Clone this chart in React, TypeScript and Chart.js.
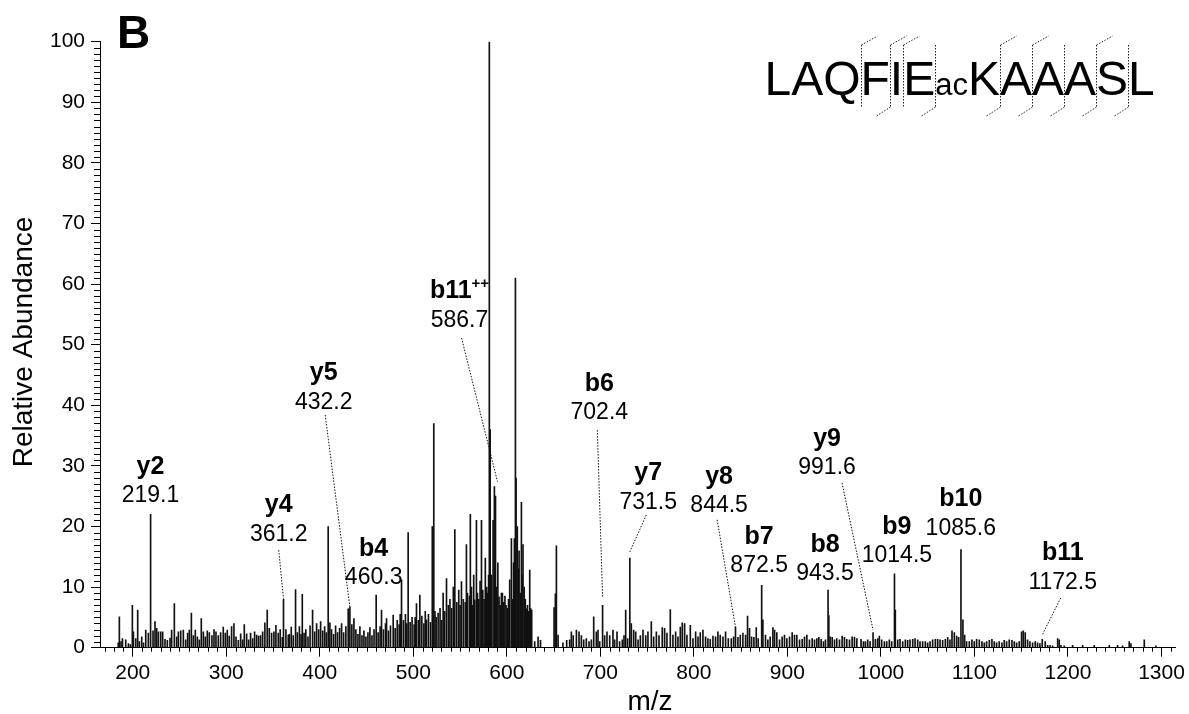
import React, { useEffect, useRef } from 'react';
import { Chart, registerables } from 'chart.js';

Chart.register(...registerables);

const FONT = '"Liberation Sans", Arial, Helvetica, sans-serif';

// ---------- axes ----------
const X_MIN = 165;
const X_MAX = 1315;
const Y_MIN = 0;
const Y_MAX = 100;
const xMajorTicks = [200, 300, 400, 500, 600, 700, 800, 900, 1000, 1100, 1200, 1300];
const yMajorTicks = [0, 10, 20, 30, 40, 50, 60, 70, 80, 90, 100];
const xTitle = 'm/z';
const yTitle = 'Relative Abundance';
const panelLetter = 'B';

// ---------- spectrum peaks: [m/z, relative abundance] ----------
const peaks180to366: [number, number][] = [
  [184.5, 0.8], [185.7, 5.1], [187.5, 1.0], [189.0, 1.5], [192.5, 1.3], [195.4, 0.7], [197.5, 0.5], [199.6, 7.0],
  [200.7, 2.6], [203.2, 1.5], [205.3, 6.2], [207.1, 1.0], [209.6, 1.8], [211.5, 0.8], [213.9, 2.9], [216.7, 2.4],
  [219.1, 22.0], [221.7, 2.8], [223.8, 4.3], [225.6, 3.2], [227.4, 2.6], [229.9, 2.6], [232.0, 2.6], [234.5, 1.4],
  [237.0, 1.2], [239.9, 1.6], [241.6, 2.9], [244.5, 7.3], [247.0, 1.8], [248.8, 2.6], [251.3, 2.8], [254.1, 2.9],
  [256.6, 1.3], [258.7, 2.4], [260.5, 2.9], [262.7, 5.7], [264.8, 2.0], [266.9, 2.9], [269.1, 1.8], [271.2, 1.3],
  [273.3, 4.8], [275.5, 2.6], [277.6, 1.8], [279.7, 2.8], [281.9, 2.5], [284.7, 2.0], [286.9, 3.0], [289.0, 2.6],
  [291.5, 2.0], [294.0, 2.5], [296.8, 3.4], [299.0, 2.4], [301.1, 2.9], [303.2, 1.9], [305.7, 3.5], [308.2, 4.0],
  [310.4, 1.8], [312.9, 1.2], [315.4, 2.3], [317.5, 1.3], [319.3, 3.8], [321.8, 2.3], [323.9, 1.3], [326.0, 2.4],
  [328.2, 1.5], [330.3, 2.6], [332.5, 2.1], [334.6, 1.9], [336.7, 2.0], [338.9, 2.6], [341.3, 4.1], [343.8, 6.2],
  [346.0, 3.2], [348.5, 2.4], [351.0, 2.6], [353.1, 3.7], [355.6, 2.4], [357.7, 3.0], [359.9, 1.7], [361.2, 8.0],
  [363.8, 3.0], [366.3, 2.1],
];

const peaks366to480: [number, number][] = [
  [367.5, 2.2], [369.5, 3.4], [371.6, 2.0], [374.1, 9.6], [376.0, 2.5], [378.2, 3.5], [380.0, 2.2], [381.3, 8.8],
  [383.2, 2.4], [385.1, 3.0], [387.4, 1.8], [389.6, 3.6], [392.3, 6.2], [394.5, 2.6], [396.6, 4.0], [398.8, 3.0],
  [400.9, 4.3], [403.1, 2.8], [405.2, 3.5], [407.0, 2.5], [409.0, 20.0], [410.8, 4.1], [412.6, 3.0], [414.8, 2.2],
  [416.9, 3.6], [419.0, 2.5], [421.2, 3.2], [423.3, 4.0], [425.5, 2.5], [427.9, 3.5], [430.4, 6.4], [432.2, 6.7],
  [434.3, 3.8], [436.5, 4.8], [438.6, 3.0], [440.8, 2.2], [442.9, 3.5], [445.1, 2.0], [447.2, 2.8], [449.3, 1.8],
  [451.5, 2.5], [453.6, 3.3], [455.8, 2.0], [458.0, 3.0], [460.3, 8.7], [462.4, 2.5], [464.5, 3.5], [466.0, 6.2],
  [468.1, 3.0], [470.3, 4.0], [471.4, 4.8], [473.5, 2.8], [475.6, 3.6], [478.5, 5.4],
];

const peaks480to636: [number, number][] = [
  [480.6, 3.2], [482.8, 4.5], [484.9, 3.8], [486.0, 5.5], [487.4, 11.2], [489.5, 4.5], [491.6, 5.5], [493.0, 4.0],
  [494.5, 19.0], [496.6, 4.2], [498.7, 5.0], [500.9, 3.8], [502.0, 5.0], [503.4, 7.3], [505.5, 4.5], [507.0, 8.7],
  [509.1, 5.2], [511.3, 4.0], [512.8, 6.0], [514.1, 4.6], [516.2, 5.5], [518.4, 4.2], [520.3, 20.0], [521.9, 37.0],
  [523.2, 6.0], [524.4, 5.0], [526.5, 5.7], [528.6, 6.5], [530.3, 4.5], [531.9, 9.0], [533.5, 6.0], [535.5, 11.4],
  [537.5, 7.0], [539.2, 8.0], [541.0, 6.5], [542.8, 10.0], [544.4, 19.5], [546.5, 7.5], [548.6, 9.5], [550.0, 7.0],
  [551.5, 10.9], [553.5, 8.0], [555.6, 7.5], [556.8, 17.0], [557.9, 9.0], [560.0, 8.5], [561.0, 22.0], [562.2, 10.0],
  [563.4, 7.0], [564.6, 12.0], [565.7, 7.9], [567.5, 21.0], [568.6, 9.0], [570.0, 8.0], [571.4, 11.0], [572.9, 21.0],
  [574.3, 9.5], [575.7, 8.0], [577.0, 14.8], [578.5, 10.0], [579.6, 9.0], [580.5, 12.0], [581.3, 100.0], [582.2, 36.0],
  [583.5, 12.0], [585.3, 21.0], [586.7, 26.6], [587.9, 25.0], [589.0, 10.0], [590.4, 14.0], [591.7, 8.4], [593.0, 7.0],
  [594.2, 9.0], [595.3, 9.0], [596.8, 7.5], [598.0, 8.5], [599.2, 7.0], [600.5, 6.5], [601.8, 8.0], [603.1, 11.2],
  [604.9, 18.0], [606.2, 8.0], [607.2, 14.0], [608.1, 18.0], [609.2, 61.0], [609.9, 28.0], [611.2, 20.0], [612.4, 13.0],
  [613.1, 16.0], [614.4, 9.0], [615.6, 24.0], [616.5, 12.0], [617.3, 17.0], [618.6, 10.0], [619.8, 8.0], [620.9, 6.4],
  [622.1, 7.0], [623.3, 6.0], [624.5, 12.8], [625.5, 6.5], [626.6, 6.2], [629.8, 1.0], [633.4, 1.8], [636.0, 1.2],
];

const peaks636to775: [number, number][] = [
  [650.5, 6.6], [651.9, 8.9], [653.0, 16.8], [654.8, 2.1], [660.0, 0.8], [664.0, 1.2], [667.2, 1.3], [669.0, 2.6],
  [671.0, 2.0], [674.4, 2.9], [677.2, 2.6], [679.7, 2.0], [682.2, 1.3], [685.0, 1.5], [687.9, 1.0], [690.4, 1.3],
  [692.9, 5.1], [695.7, 2.6], [697.5, 2.9], [699.3, 1.0], [702.4, 7.0], [704.6, 2.0], [707.1, 2.6], [710.0, 2.0],
  [713.5, 2.9], [715.3, 1.3], [717.8, 2.6], [720.6, 1.0], [723.5, 1.3], [725.3, 2.0], [727.1, 6.2], [729.2, 1.5],
  [731.5, 14.8], [733.1, 4.0], [735.6, 2.9], [737.8, 2.6], [740.3, 1.3], [742.8, 2.0], [745.6, 2.9], [748.5, 2.0],
  [750.9, 2.6], [754.5, 4.3], [757.0, 1.8], [759.9, 2.6], [762.7, 2.0], [766.2, 3.3], [768.7, 3.2], [771.2, 2.4],
  [774.8, 6.3],
];

const peaks775to975: [number, number][] = [
  [777.6, 2.1], [780.5, 2.6], [783.0, 1.8], [785.5, 3.4], [787.6, 4.1], [790.1, 4.0], [792.6, 2.1], [796.2, 3.7],
  [799.0, 1.5], [801.9, 2.6], [804.4, 1.8], [806.8, 2.5], [809.7, 2.9], [812.5, 1.8], [815.0, 1.5], [817.5, 1.4],
  [820.4, 1.9], [823.2, 1.8], [825.7, 2.6], [828.2, 2.1], [831.1, 1.8], [833.9, 2.6], [836.8, 1.5], [840.0, 1.5],
  [842.5, 1.8], [844.5, 3.4], [847.1, 1.7], [849.6, 2.1], [852.4, 2.4], [855.3, 2.1], [857.4, 5.2], [859.5, 3.2],
  [861.7, 1.8], [864.2, 1.7], [866.7, 3.3], [868.8, 1.5], [872.5, 10.3], [873.8, 4.6], [876.6, 2.1], [879.1, 1.3],
  [881.6, 1.8], [884.5, 3.3], [886.3, 2.9], [888.7, 2.5], [891.6, 1.3], [894.4, 1.8], [896.9, 2.1], [899.4, 1.5],
  [902.3, 1.8], [905.1, 2.5], [907.6, 2.1], [910.1, 2.1], [913.0, 1.3], [915.8, 1.4], [918.3, 1.8], [920.8, 2.1],
  [923.6, 1.3], [926.5, 1.5], [929.0, 1.3], [931.5, 1.5], [933.6, 1.7], [936.1, 1.4], [938.6, 1.0], [940.7, 1.3],
  [943.5, 9.5], [944.3, 5.3], [945.7, 1.8], [947.9, 1.7], [950.4, 1.3], [952.8, 1.5], [955.7, 1.3], [958.5, 1.9],
  [961.0, 1.7], [963.5, 1.4], [966.4, 1.3], [969.2, 1.8], [971.7, 1.7], [974.2, 1.5],
];

const peaks975to1176: [number, number][] = [
  [978.8, 1.4], [981.3, 1.0], [983.4, 1.0], [985.9, 1.3], [988.4, 1.0], [991.6, 2.5], [994.1, 1.4], [996.6, 1.5],
  [998.3, 1.9], [1000.8, 1.3], [1003.7, 1.0], [1006.2, 1.0], [1009.0, 1.3], [1011.5, 1.0], [1014.5, 12.2], [1015.4, 6.2],
  [1018.0, 1.3], [1020.4, 1.4], [1023.3, 1.0], [1026.1, 1.3], [1028.6, 1.2], [1031.1, 1.3], [1034.0, 1.4], [1036.5, 1.5],
  [1039.3, 1.3], [1041.8, 1.0], [1044.6, 1.0], [1047.5, 1.0], [1050.0, 0.8], [1052.5, 1.0], [1055.3, 1.3], [1058.2, 1.4],
  [1060.7, 1.4], [1063.2, 1.3], [1066.0, 1.2], [1068.9, 1.4], [1071.4, 1.7], [1073.8, 1.3], [1076.0, 2.8], [1078.5, 2.5],
  [1081.0, 1.9], [1083.1, 1.7], [1085.6, 16.2], [1087.7, 4.6], [1089.5, 2.1], [1091.6, 1.0], [1094.5, 1.0], [1097.3, 1.3],
  [1099.8, 1.0], [1102.3, 1.4], [1105.2, 1.3], [1108.0, 1.0], [1110.5, 0.8], [1113.0, 1.0], [1115.9, 1.2], [1118.7, 1.4],
  [1121.2, 1.0], [1123.7, 0.8], [1126.5, 1.0], [1129.4, 0.8], [1131.9, 1.2], [1134.4, 1.0], [1137.2, 1.3], [1140.1, 1.2],
  [1142.6, 1.0], [1145.1, 0.8], [1147.9, 1.0], [1150.4, 2.6], [1152.2, 2.8], [1154.3, 2.5], [1156.8, 1.3], [1159.3, 1.0],
  [1162.2, 0.8], [1165.0, 1.0], [1167.5, 0.8], [1170.0, 0.7], [1172.5, 1.4], [1175.7, 1.0],
];

const peaks1176to1310: [number, number][] = [
  [1178.3, 0.4], [1180.8, 0.4], [1183.6, 0.3], [1189.0, 1.5], [1190.7, 1.3], [1192.5, 0.4], [1196.0, 0.3],
  [1205.0, 0.4], [1215.7, 0.4], [1228.1, 0.4], [1244.2, 0.4], [1253.1, 0.4], [1258.4, 0.3], [1265.5, 1.0],
  [1267.3, 0.7], [1281.6, 1.3], [1294.0, 0.3],
];

// ---------- fragment-ion annotations ----------
const ionNames = ['y2', 'y4', 'y5', 'b4', 'b11', 'b6', 'y7', 'y8', 'b7', 'b8', 'y9', 'b9', 'b10', 'b11'];
const ionCharges = ['', '', '', '', '++', '', '', '', '', '', '', '', '', ''];
const ionMzLabels = ['219.1', '361.2', '432.2', '460.3', '586.7', '702.4', '731.5', '844.5', '872.5', '943.5', '991.6', '1014.5', '1085.6', '1172.5'];
// label anchor (centre of ion-name line), in data units [m/z, abundance]
const labelAnchors: [number, number][] = [
  [219.0, 29.8], [356.1, 23.5], [404.2, 45.3], [457.6, 16.3], [549.4, 58.8], [698.9, 43.5], [751.2, 28.8],
  [827.0, 28.2], [869.8, 18.3], [940.2, 17.0], [942.4, 34.5], [1017.1, 19.9], [1085.4, 24.5], [1194.4, 15.6],
];
// dotted leader lines, in data units (null = none)
const leaderStarts: ([number, number] | null)[] = [
  null, [356.1, 16.1], [405.8, 38.4], null, [551.6, 51.1], [696.8, 35.9], [749.1, 21.9],
  [824.9, 21.1], null, null, [958.4, 27.2], null, null, [1192.2, 8.2],
];
const leaderEnds: ([number, number] | null)[] = [
  null, [361.2, 8.1], [432.2, 6.7], null, [590.0, 27.4], [702.4, 8.4], [731.5, 15.8],
  [844.5, 3.4], null, null, [991.6, 2.9], null, null, [1172.5, 2.1],
];

// ---------- peptide ----------
const residues = ['L', 'A', 'Q', 'F', 'I', 'E', 'K', 'A', 'A', 'A', 'S', 'L'];
const residueMods = ['', '', '', '', '', '', 'ac', '', '', '', '', ''];
const bIonsObserved = [4, 6, 7, 8, 9, 10, 11];
const yIonsObserved = [2, 4, 5, 7, 8, 9];

const allPeaks = [
  ...peaks180to366, ...peaks366to480, ...peaks480to636, ...peaks636to775,
  ...peaks775to975, ...peaks975to1176, ...peaks1176to1310,
];

const overlayPlugin = {
  id: 'spectrumOverlay',
  afterDraw(chart: any) {
    const ctx: CanvasRenderingContext2D = chart.ctx;
    const xs = chart.scales.x;
    const ys = chart.scales.y;
    const area = chart.chartArea;
    ctx.save();

    // minor ticks
    ctx.strokeStyle = '#000';
    ctx.lineWidth = 1;
    ctx.beginPath();
    for (let v = 170; v <= X_MAX; v += 10) {
      if (v % 100 === 0) continue;
      const px = Math.round(xs.getPixelForValue(v)) + 0.5;
      ctx.moveTo(px, area.bottom);
      ctx.lineTo(px, area.bottom + 4);
    }
    for (let v = 1; v < Y_MAX; v += 1) {
      if (v % 10 === 0) continue;
      const py = Math.round(ys.getPixelForValue(v)) + 0.5;
      ctx.moveTo(area.left, py);
      ctx.lineTo(area.left - 6, py);
    }
    ctx.stroke();

    // axis titles
    ctx.fillStyle = '#000';
    ctx.font = `28px ${FONT}`;
    ctx.textAlign = 'center';
    ctx.textBaseline = 'alphabetic';
    ctx.fillText(xTitle, 650, 710);
    ctx.save();
    ctx.translate(31.5, 342);
    ctx.rotate(-Math.PI / 2);
    ctx.fillText(yTitle, 0, 0);
    ctx.restore();

    // panel letter
    ctx.font = `bold 46px ${FONT}`;
    ctx.textAlign = 'left';
    ctx.fillText(panelLetter, 117, 48);

    // peptide sequence with fragmentation markers
    const bigFont = `48px ${FONT}`;
    const modFont = `31px ${FONT}`;
    const baseY = 95;
    let cx = 764.5;
    const boundaries: number[] = [];
    for (let i = 0; i < residues.length; i++) {
      if (residueMods[i]) {
        ctx.font = modFont;
        ctx.fillText(residueMods[i], cx, baseY);
        cx += ctx.measureText(residueMods[i]).width;
      }
      ctx.font = bigFont;
      ctx.fillText(residues[i], cx, baseY);
      cx += ctx.measureText(residues[i]).width;
      boundaries.push(cx);
    }
    ctx.strokeStyle = '#222';
    ctx.lineWidth = 1;
    ctx.setLineDash([1.5, 1.5]);
    const n = residues.length;
    for (let i = 1; i < n; i++) {
      const hasB = bIonsObserved.includes(i);
      const hasY = yIonsObserved.includes(n - i);
      if (!hasB && !hasY) continue;
      const x = Math.round(boundaries[i - 1]) + 0.5;
      ctx.beginPath();
      ctx.moveTo(x, 45);
      ctx.lineTo(x, 107);
      if (hasY) {
        ctx.moveTo(x, 45);
        ctx.lineTo(x + 16, 36);
      }
      if (hasB) {
        ctx.moveTo(x, 107);
        ctx.lineTo(x - 14, 116);
      }
      ctx.stroke();
    }
    ctx.setLineDash([]);

    // ion annotations
    ctx.textBaseline = 'middle';
    for (let i = 0; i < ionNames.length; i++) {
      const [amz, aab] = labelAnchors[i];
      const px = xs.getPixelForValue(amz);
      const py = ys.getPixelForValue(aab);
      ctx.fillStyle = '#000';
      ctx.font = `bold 25px ${FONT}`;
      const w1 = ctx.measureText(ionNames[i]).width;
      let w2 = 0;
      if (ionCharges[i]) {
        ctx.font = `bold 15px ${FONT}`;
        w2 = ctx.measureText(ionCharges[i]).width;
      }
      const left = px - (w1 + w2) / 2;
      ctx.textAlign = 'left';
      ctx.font = `bold 25px ${FONT}`;
      ctx.fillText(ionNames[i], left, py);
      if (ionCharges[i]) {
        ctx.font = `bold 15px ${FONT}`;
        ctx.fillText(ionCharges[i], left + w1, py - 8);
      }
      ctx.textAlign = 'center';
      ctx.font = `23px ${FONT}`;
      ctx.fillText(ionMzLabels[i], px, py + 29);

      const s = leaderStarts[i];
      const e = leaderEnds[i];
      if (s && e) {
        ctx.strokeStyle = '#111';
        ctx.lineWidth = 1;
        ctx.setLineDash([1.5, 1.5]);
        ctx.beginPath();
        ctx.moveTo(xs.getPixelForValue(s[0]), ys.getPixelForValue(s[1]));
        ctx.lineTo(xs.getPixelForValue(e[0]), ys.getPixelForValue(e[1]));
        ctx.stroke();
        ctx.setLineDash([]);
      }
    }
    ctx.restore();
  },
};

export default function App() {
  const canvasRef = useRef<HTMLCanvasElement | null>(null);

  useEffect(() => {
    const canvas = canvasRef.current;
    if (!canvas) return;
    const chart = new Chart(canvas, {
      type: 'bar',
      data: {
        datasets: [
          {
            data: allPeaks.map(([x, y]) => ({ x, y })),
            backgroundColor: '#111',
            borderWidth: 0,
            barThickness: 1,
          } as any,
        ],
      },
      options: {
        responsive: false,
        animation: false,
        devicePixelRatio: 1,
        layout: { padding: { left: 0, right: 12, top: 41.7, bottom: 0 } },
        plugins: { legend: { display: false }, tooltip: { enabled: false } },
        scales: {
          x: {
            type: 'linear',
            min: X_MIN,
            max: X_MAX,
            offset: false,
            afterBuildTicks: (s: any) => {
              s.ticks = xMajorTicks.map((v) => ({ value: v }));
            },
            afterFit: (s: any) => {
              s.height = 66.3;
            },
            ticks: {
              font: { family: FONT, size: 21 },
              color: '#000',
              padding: 4,
              maxRotation: 0,
              autoSkip: false,
              callback: (v: any) => String(v),
            },
            grid: { display: true, offset: false, drawOnChartArea: false, drawTicks: true, tickLength: 9, tickColor: '#000', color: '#000' },
            border: { display: true, color: '#000', width: 1 },
          },
          y: {
            type: 'linear',
            min: Y_MIN,
            max: Y_MAX,
            afterBuildTicks: (s: any) => {
              s.ticks = yMajorTicks.map((v) => ({ value: v }));
            },
            afterFit: (s: any) => {
              s.width = 100;
            },
            ticks: {
              font: { family: FONT, size: 21 },
              color: '#000',
              padding: 6,
              autoSkip: false,
              callback: (v: any) => String(v),
            },
            grid: { display: true, drawOnChartArea: false, drawTicks: true, tickLength: 9, tickColor: '#000', color: '#000' },
            border: { display: true, color: '#000', width: 1 },
          },
        },
      } as any,
      plugins: [overlayPlugin],
    });
    return () => chart.destroy();
  }, []);

  return (
    <div style={{ position: 'absolute', left: 0, top: 0, width: 1189, height: 714, background: '#fff' }}>
      <canvas ref={canvasRef} width={1189} height={714} />
    </div>
  );
}
